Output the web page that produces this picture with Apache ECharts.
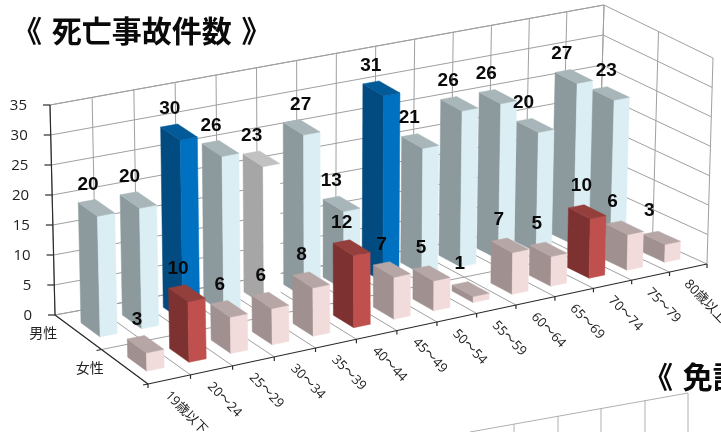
<!DOCTYPE html>
<html><head><meta charset="utf-8">
<style>html,body{margin:0;padding:0;background:#fff}#c{width:721px;height:432px}</style>
<script src="https://cdn.jsdelivr.net/npm/echarts@6/dist/echarts.min.js"></script>
</head><body><div id="c"></div>
<script>
const categories = ['19歳以下','20～24','25～29','30～34','35～39','40～44','45～49','50～54','55～59','60～64','65～69','70～74','75～79','80歳以上'];
const rows = ['男性','女性'];
const maleValues = [20,20,30,26,23,27,13,31,21,26,26,20,27,23];
const femaleValues = [3,10,6,6,8,12,7,5,1,7,5,10,6,3];
const yTicks = [0,5,10,15,20,25,30,35];
const blueMale = [2,7];
const whiteMale = [4];
const redFemale = [1,5,11];

const YMAX = 35, NCAT = categories.length, NROW = rows.length;
const COL = {
  male:{front:'#DBEEF4',side:'#8C9A9E',top:'#A8B6BA'},
  blue:{front:'#0070C0',side:'#024B80',top:'#025A98'},
  white:{front:'#FFFFFF',side:'#A6A6A6',top:'#C2C2C2'},
  female:{front:'#F2DCDB',side:'#A09090',top:'#B6A6A6'},
  red:{front:'#C0504D',side:'#7D3130',top:'#953F3D'}
};
const PERSP = 0.07;
function plane(p0,p1,p2,p3){
  return (s,t)=>[0,1].map(k=>(1-s)*(1-t)*p0[k]+s*(1-t)*p1[k]+s*t*p2[k]+(1-s)*t*p3[k]);
}
const floorP = plane([55,315],[598,215],[707,264],[148,384]);
const topP = plane([50,105],[604,5],[713,58],[143,171]);
function P(u,v,w){
  const r=u/NCAT, s=r*(1+PERSP)/(1+PERSP*r), t=v/NROW;
  const a=floorP(s,t),b=topP(s,t),k=w/YMAX;
  return [a[0]+(b[0]-a[0])*k,a[1]+(b[1]-a[1])*k];
}
function toU(api,cs,i){return (api.coord([i,0])[0]-cs.x)/cs.width*NCAT;}
function toW(api,cs,val){return (cs.y+cs.height-api.coord([0,val])[1])/cs.height*YMAX;}
function line(a,b,color,width,z){return {type:'line',silent:true,z2:z||1,shape:{x1:a[0],y1:a[1],x2:b[0],y2:b[1]},style:{stroke:color,lineWidth:width||1,fill:null}};}
function txt(t,x,y,font,align,color,rot){return {type:'text',silent:true,x:x,y:y,rotation:rot||0,z2:5,style:{text:t,x:0,y:0,font:font,align:align,verticalAlign:'middle',fill:color||'#111'}};}
const GRID='#A0A0A0', AXIS='#2b2b2b';

function renderValueFrame(params,api){
  const cs=params.coordSys, val=api.value(1), w=toW(api,cs,val), ch=[];
  ch.push(line(P(0,0,w),P(NCAT,0,w),GRID,1));
  ch.push(line(P(NCAT,0,w),P(NCAT,NROW,w),GRID,1));
  const a=P(0,0,w);
  ch.push(line([a[0]-7,a[1]],a,AXIS,1.2,3));
  ch.push(txt(String(val),a[0]-23,a[1]+1,'15px "Open Sans"','right','#222'));
  return {type:'group',children:ch};
}
function renderCatFrame(params,api){
  const cs=params.coordSys, i=api.value(0), c=toU(api,cs,i), u=c-0.5, ch=[];
  ch.push(line(P(u,0,0),P(u,0,YMAX),GRID,1));
  ch.push(line(P(u,0,0),P(u,NROW,0),GRID,1));
  const f=P(u,NROW,0);
  ch.push(line(f,[f[0],f[1]+4],AXIS,1.2,3));
  if(i===NCAT-1){
    const r=P(u+1,NROW,0);
    ch.push(line(r,[r[0],r[1]+4],AXIS,1.2,3));
  }
  const m=P(c,NROW,0);
  ch.push(txt(categories[i],m[0]-2,m[1]+14,'13px "Open Sans","Noto Sans CJK JP"','left','#222',-0.8));
  return {type:'group',children:ch};
}
function renderRowFrame(params,api){
  const r=api.value(0), ch=[];
  const v=r+0.5, m=P(0,v,0);
  ch.push(txt(rows[r],m[0]-21,m[1]+0.5,'14px "Noto Sans CJK JP"','right','#222'));
  ch.push(line(P(0,r,0),P(NCAT,r,0),GRID,1));
  ch.push(line(P(NCAT,r,0),P(NCAT,r,YMAX),GRID,1));
  const t=P(0,r+1,0);
  ch.push(line(t,[t[0]-5,t[1]+1],AXIS,1.2,3));
  return {type:'group',children:ch};
}
function renderAxes(){
  return {type:'group',children:[
    line(P(0,0,0),P(0,0,YMAX),AXIS,1.2,3),
    line(P(0,0,0),P(0,NROW,0),AXIS,1.2,3),
    line(P(0,NROW,0),P(NCAT,NROW,0),AXIS,1.2,3),
    line(P(NCAT,NROW,0),P(NCAT,NROW,YMAX),GRID,1),
    line(P(0,0,YMAX),P(NCAT,0,YMAX),GRID,1),
    line(P(NCAT,0,0),P(NCAT,0,YMAX),GRID,1)
  ]};
}
const HALF=0.205;
function bar(row,paletteOf){
  return function(params,api){
    const cs=params.coordSys,i=api.value(0),val=api.value(1);
    const c=toU(api,cs,i),w=toW(api,cs,val),v=row+0.5;
    const u0=c-HALF,u1=c+HALF,v0=v-HALF,v1=v+HALF;
    const pal=paletteOf(i),z=30-i;
    const poly=(pts,fill)=>({type:'polygon',silent:true,z2:z,shape:{points:pts},style:{fill:fill,stroke:fill,lineWidth:0.5}});
    return {type:'group',children:[
      poly([P(u0,v0,0),P(u0,v1,0),P(u0,v1,w),P(u0,v0,w)],pal.side),
      poly([P(u0,v1,0),P(u1,v1,0),P(u1,v1,w),P(u0,v1,w)],pal.front),
      poly([P(u0,v0,w),P(u0,v1,w),P(u1,v1,w),P(u1,v0,w)],pal.top)
    ]};
  };
}
// hand-moved labels in the reference
const labelMoved = [{5:9,13:8},{11:6}];
function barLabel(row){
  return function(params,api){
    const cs=params.coordSys,i=api.value(0),val=api.value(1);
    const p=P(toU(api,cs,i),row+0.5,toW(api,cs,val));
    const dx=-8.5-0.3*i+(labelMoved[row][i]||0);
    const dy=row===1?-24-0.2*i:-23;
    return txt(String(val),p[0]+dx,p[1]+dy,'bold 19px "Liberation Sans"','center','#0a0a0a');
  };
}
const malePal=i=>blueMale.includes(i)?COL.blue:whiteMale.includes(i)?COL.white:COL.male;
const femalePal=i=>redFemale.includes(i)?COL.red:COL.female;
const pairs=a=>a.map((v,i)=>[i,v]);
function custom(render,data,z){return {type:'custom',coordinateSystem:'cartesian2d',renderItem:render,data:data,z:z,silent:true,clip:false,animation:false,encode:{x:0,y:1}};}

const chart=echarts.init(document.getElementById('c'),null,{renderer:'canvas'});
const other=[[470,432,688,393],[514,424,514,432],[558,416,558,432],[601,408,601,432],[645,400,645,432],[688,393,688,432]];
const titleRich={
  a:{fontFamily:'Noto Sans CJK JP',fontWeight:'bold',fontSize:30,color:'#0a0a0a',padding:[0,3,0,0]},
  b:{fontFamily:'Noto Sans CJK JP',fontWeight:'bold',fontSize:30,color:'#0a0a0a'},
  c:{fontFamily:'Noto Sans CJK JP',fontWeight:'bold',fontSize:30,color:'#0a0a0a',padding:[0,0,0,3]}
};
chart.setOption({
  animation:false,
  backgroundColor:'#fff',
  title:[
    {text:'{a|《 }{b|死亡事故件数}{c| 》}',left:7,top:11,textStyle:{rich:titleRich}},
    {text:'{a|《 }{b|免許}',left:638,top:357,textStyle:{rich:titleRich}}
  ],
  grid:{left:60,top:20,width:600,height:350},
  xAxis:{type:'category',data:categories,show:false},
  yAxis:{type:'value',min:0,max:YMAX,interval:5,show:false},
  graphic:other.map(s=>({type:'line',silent:true,shape:{x1:s[0],y1:s[1],x2:s[2],y2:s[3]},style:{stroke:'#B0B0B0',lineWidth:1}})),
  series:[
    custom(renderValueFrame,yTicks.map(t=>[0,t]),1),
    custom(renderCatFrame,categories.map((c,i)=>[i,0]),1),
    custom(renderRowFrame,rows.map((r,i)=>[i,0]),1),
    custom(renderAxes,[[0,0]],2),
    custom(bar(0,malePal),pairs(maleValues),3),
    custom(bar(1,femalePal),pairs(femaleValues),4),
    custom(barLabel(0),pairs(maleValues),6),
    custom(barLabel(1),pairs(femaleValues),6)
  ]
});
</script></body></html>
